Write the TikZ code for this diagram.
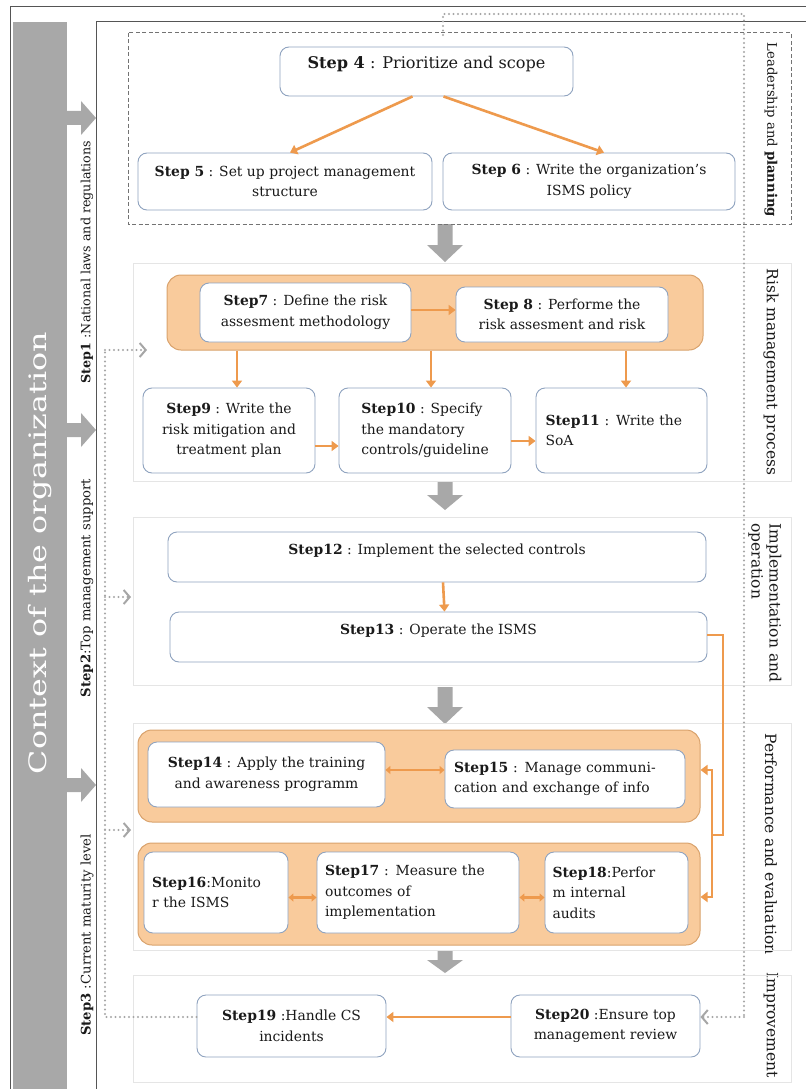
\documentclass[tikz,border=0pt]{standalone}
\usepackage{fontspec}
\setmainfont{DejaVu Serif}
\usetikzlibrary{arrows.meta,calc}
\definecolor{orangeA}{HTML}{EE9A4D}
\definecolor{orfill}{HTML}{F9CB9C}
\definecolor{ordraw}{HTML}{D9A26C}
\definecolor{boxdraw}{HTML}{8FA3BF}
\definecolor{barg}{HTML}{A8A8A8}
\definecolor{dotg}{HTML}{A6A6A6}
\definecolor{frameg}{HTML}{555555}
\definecolor{txt}{HTML}{1A1A1A}
\begin{document}
\begin{tikzpicture}[x=1pt,y=-1pt,
  every node/.style={text=txt},
  stepbox/.style={draw=boxdraw, fill=white, rounded corners=9pt, line width=0.9pt,
    font=\fontsize{13.9}{20.5}\selectfont, inner sep=3pt},
  topbox/.style={stepbox, text height=10pt, text depth=16pt},
  orbox/.style={draw=ordraw, fill=orfill, rounded corners=14pt, line width=1pt, inner sep=0pt},
  panel/.style={draw=black!10, line width=0.8pt, inner sep=0pt},
  oarr/.style={draw=orangeA, line width=2.6pt, -{Triangle[length=7pt,width=10pt]}},
  oline/.style={draw=orangeA, line width=2pt},
  odbl/.style={draw=orangeA, line width=2.6pt, {Triangle[length=5pt,width=8pt]}-{Triangle[length=5pt,width=8pt]}},
  dotline/.style={draw=dotg, line width=2.2pt, dash pattern=on 0pt off 4.5pt, line cap=round},
  dotarr/.style={dotline, -{Straight Barb[length=6pt,width=14pt,line width=2pt]}},
  sidelab/.style={rotate=-90, font=\fontsize{15.5}{18}\selectfont, align=left},
  leftlab/.style={rotate=90, font=\fontsize{13.2}{15}\selectfont},
]
\useasboundingbox (0,0) rectangle (806,1089);
\fill[white] (0,0) rectangle (806,1089);

% frames
\fill[barg] (13,22) rectangle (67,1089);
\draw[frameg, line width=1pt] (10,1089) -- (10,7) -- (806,7);
\draw[frameg, line width=1pt] (96,1089) -- (96,22) -- (806,22);

% grey block arrows from context bar
\foreach \c in {118,430,785}{
  \fill[barg] (67,\c-7) -- (81,\c-7) -- (81,\c-17) -- (96,\c) -- (81,\c+17) -- (81,\c+7) -- (67,\c+7) -- cycle;
}
% grey down arrows between sections
\foreach \t/\b/\h in {224/262/17, 482/510/15, 687/724/17, 950/973/13}{
  \fill[barg] (437.5,\t) -- (452.5,\t) -- (452.5,\b-\h) -- (463,\b-\h) -- (445,\b) -- (427,\b-\h) -- (437.5,\b-\h) -- cycle;
}

\node[rotate=90, text=white, inner sep=0pt] (ctx) at (40,553) {\resizebox{442pt}{\height}{\fontsize{24}{26}\selectfont Context of the organization}};

% left labels
\node[leftlab, font=\fontsize{12.7}{14}\selectfont] (l1) at (87,262) {\textbf{Step1} :National laws and regulations};
\node[leftlab] (l2) at (87,588) {\textbf{Step2}:Top management support};
\node[leftlab] (l3) at (87,935) {\textbf{Step3} :Current maturity level};

% right labels
\node[sidelab, font=\fontsize{13.2}{16}\selectfont] (r1) at (771,130) {Leadership and \textbf{planning}};
\node[sidelab] (r2) at (771,372) {Risk management process};
\node[sidelab, anchor=west] (r3) at (765,520) {Implementation and\\operation};
\node[sidelab] (r4) at (771,844) {Performance and evaluation};
\node[sidelab] (r5) at (771,1025) {Improvement};

% section frames
\draw[dash pattern=on 4pt off 2.5pt, black!55, line width=1pt] (128,33) rectangle (791,224);
\node[panel, minimum width=658, minimum height=218] (p2) at (462,372) {};
\node[panel, minimum width=658, minimum height=168] (p3) at (462,601) {};
\node[panel, minimum width=658, minimum height=227] (p4) at (462,836.5) {};
\node[panel, minimum width=658, minimum height=107] (p5) at (462,1028.5) {};

% orange containers
\node[orbox, minimum width=536, minimum height=75] (o1) at (435,312.5) {};
\node[orbox, minimum width=562, minimum height=92] (o2) at (419,776) {};
\node[orbox, minimum width=562, minimum height=102] (o3) at (419,894) {};

% dotted connector corners
\coordinate (dl) at (105,1017);
\coordinate (dt) at (105,350);
\coordinate (tr0) at (443,35);
\coordinate (tr1) at (744,14);
\coordinate (tr2) at (744,1017);

% steps
\node[topbox, font=\fontsize{16.1}{18}\selectfont, minimum width=293, minimum height=49] (s4) at (426.5,71.5) {\textbf{Step 4} : Prioritize and scope};
\node[stepbox, minimum width=294, minimum height=57, align=center] (s5) at (285,181.5) {\textbf{Step 5} : Set up project management\\structure};
\node[stepbox, minimum width=292, minimum height=57, align=center] (s6) at (589,181.5) {\textbf{Step 6} : Write the organization's\\ISMS policy};

\node[stepbox, minimum width=211, minimum height=59, align=center] (s7) at (305.5,312.5) {\textbf{Step7} : Define the risk\\assesment methodology};
\node[stepbox, minimum width=212, minimum height=55, align=center] (s8) at (562,314.5) {\textbf{Step 8} : Performe the\\risk assesment and risk};
\node[stepbox, minimum width=172, minimum height=85, align=center] (s9) at (229,430.5) {\textbf{Step9} : Write the\\risk mitigation and\\treatment plan};
\node[stepbox, minimum width=172, minimum height=85, align=left] (s10) at (425,430.5) {\textbf{Step10} : Specify\\the mandatory\\controls/guideline};
\node[stepbox, minimum width=171, minimum height=85, text width=152pt, align=left] (s11) at (621.5,430.5) {\textbf{Step11} : Write the\\SoA\\[6pt]};

\node[topbox, minimum width=538, minimum height=50] (s12) at (437,557) {\textbf{Step12} : Implement the selected controls};
\node[topbox, minimum width=537, minimum height=50] (s13) at (438.5,637) {\textbf{Step13} : Operate the ISMS};

\node[stepbox, minimum width=237, minimum height=65, align=center] (s14) at (266.5,774.5) {\textbf{Step14} : Apply the training\\and awareness programm};
\node[stepbox, minimum width=240, minimum height=58, text width=222pt, align=left] (s15) at (565,779) {\textbf{Step15} : Manage communi-\\cation and exchange of info};
\node[stepbox, minimum width=144, minimum height=81, text width=128pt, align=left] (s16) at (216,892.5) {\textbf{Step16}:Monito\\r the ISMS\\[4pt]};
\node[stepbox, minimum width=202, minimum height=81, text width=186pt, align=left] (s17) at (418,892.5) {\textbf{Step17} : Measure the\\outcomes of\\implementation};
\node[stepbox, minimum width=143, minimum height=81, text width=128pt, align=left] (s18) at (616.5,892.5) {\textbf{Step18}:Perfor\\m internal\\audits};

\node[stepbox, minimum width=189, minimum height=62, align=center] (s19) at (291.5,1026) {\textbf{Step19} :Handle CS\\incidents};
\node[stepbox, minimum width=189, minimum height=62, align=center] (s20) at (605.5,1026) {\textbf{Step20} :Ensure top\\management review};

% orange connectors
\draw[oarr] ([xshift=-14pt]s4.south) -- ([xshift=5pt]s5.north);
\draw[oarr] ([xshift=17pt]s4.south) -- ([xshift=15pt]s6.north);
\draw[oarr] (s7.east |- 0,310) -- (s8.west |- 0,310);
\draw[oarr] ([xshift=8pt]s9.north |- o1.south) -- ([xshift=8pt]s9.north);
\draw[oarr] ([xshift=6pt]s10.north |- o1.south) -- ([xshift=6pt]s10.north);
\draw[oarr] ([xshift=4.5pt]s11.north |- o1.south) -- ([xshift=4.5pt]s11.north);
\draw[oarr] ([yshift=-15.5pt]s9.east) -- ([yshift=-15.5pt]s10.west);
\draw[oarr] ([yshift=-10.5pt]s10.east) -- ([yshift=-10.5pt]s11.west);
\draw[oarr] ([xshift=6pt]s12.south) -- ([xshift=6pt]s13.north);

\coordinate (jn) at (712,835);
\draw[oline] ([yshift=2pt]s13.east) -- (723,635) -- (723,835) -- (jn);
\draw[oarr, line width=2pt] (jn) |- ([yshift=6pt]o2.east);
\draw[oarr, line width=2pt] (jn) |- ([yshift=-3pt]o3.east);

\draw[odbl] ([yshift=4.5pt]s14.east) -- ([yshift=4.5pt]s14.east -| s15.west);
\draw[odbl] ([yshift=-5pt]s16.east) -- ([yshift=-5pt]s17.west);
\draw[odbl] ([yshift=-5pt]s17.east) -- ([yshift=-5pt]s18.west);
\draw[oarr] ([yshift=9pt]s20.west) -- ([yshift=9pt]s19.east);

% dotted loops
\draw[dotline] ([yshift=9pt]s19.west) -- (dl) -- (dt);
\draw[dotarr] (dt) -- (147,350);
\draw[dotarr] (105,597) -- (131,597);
\draw[dotarr] (105,830) -- (131,830);
\draw[dotline] (tr0) -- (443,14) -- (tr1) -- (tr2);
\draw[dotarr] (tr2) -- ([yshift=9pt]s20.east);
\end{tikzpicture}
\end{document}
